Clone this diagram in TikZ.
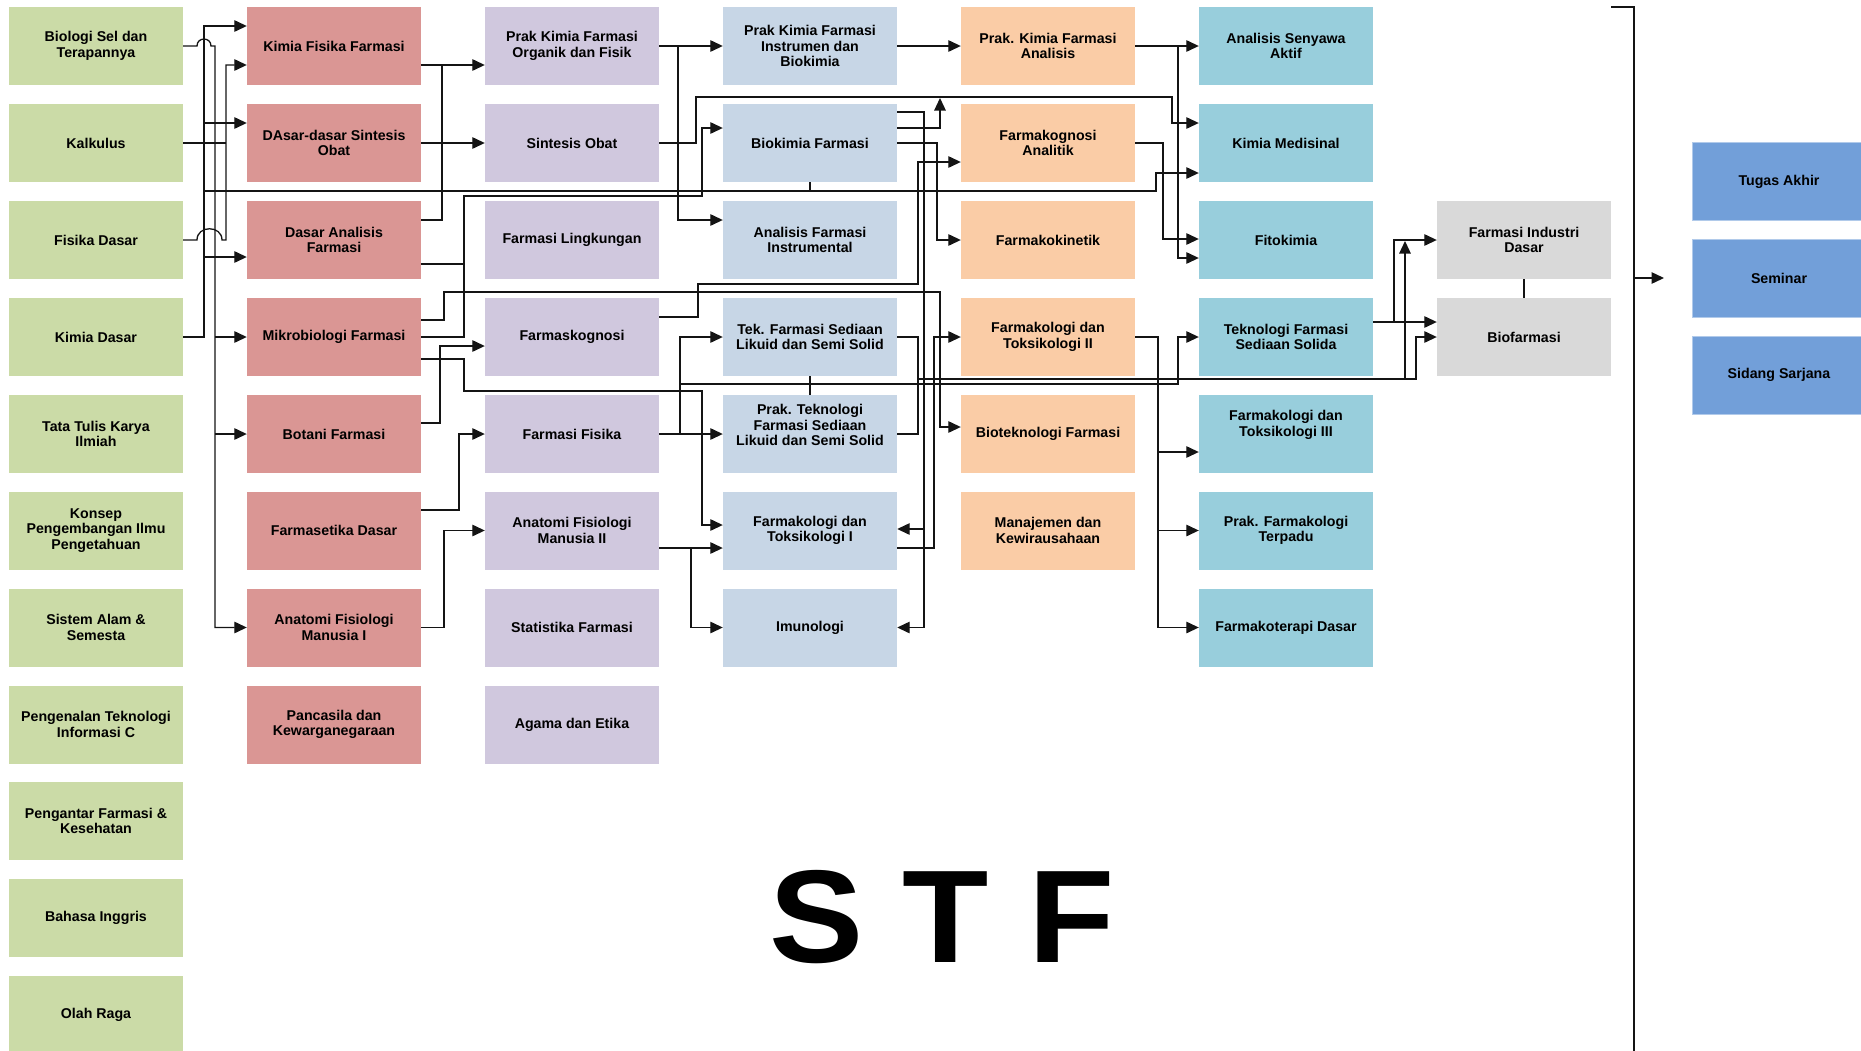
\documentclass[tikz,border=0pt]{standalone}
\usepackage{fontspec}
\setmainfont{Liberation Sans}
\usetikzlibrary{arrows.meta}
\definecolor{cgreen}{HTML}{CBDBA7}
\definecolor{cred}{HTML}{DA9694}
\definecolor{cpurple}{HTML}{D0C8DE}
\definecolor{cbgray}{HTML}{C7D6E6}
\definecolor{corange}{HTML}{FACCA6}
\definecolor{ccyan}{HTML}{98CEDC}
\definecolor{cgray}{HTML}{D9D9D9}
\definecolor{cblue}{HTML}{729FD9}
\definecolor{cline}{HTML}{141414}
\begin{document}
\begin{tikzpicture}[x=1pt,y=-1pt,
  box/.style={rectangle, minimum width=174pt, minimum height=78pt, inner sep=0pt, align=center,
    font=\bfseries\fontsize{14.2}{15.5}\selectfont, text=black},
  gbox/.style={box, fill=cgreen},
  rbox/.style={box, fill=cred},
  pbox/.style={box, fill=cpurple},
  bbox/.style={box, fill=cbgray},
  obox/.style={box, fill=corange},
  cbox/.style={box, fill=ccyan},
  xbox/.style={box, fill=cgray},
  tbox/.style={box, fill=cblue, draw=cblue!55!white, line width=0.8pt},
  conn/.style={draw=cline, line width=1.3pt},
  arr/.style={conn, -{Triangle[length=12.5pt,width=11.5pt]}},
]
\useasboundingbox (0,0) rectangle (1861,1050);
% column 1
\node[gbox] (g0) at (96,46) {Biologi Sel dan\\Terapannya};
\node[gbox] (g1) at (96,143) {Kalkulus};
\node[gbox] (g2) at (96,240) {Fisika Dasar};
\node[gbox] (g3) at (96,337) {Kimia Dasar};
\node[gbox] (g4) at (96,434) {Tata Tulis Karya\\Ilmiah};
\node[gbox] (g5) at (96,530.5) {Konsep\\Pengembangan Ilmu\\Pengetahuan};
\node[gbox] (g6) at (96,627.5) {Sistem Alam \&\\Semesta};
\node[gbox] (g7) at (96,724.5) {Pengenalan Teknologi\\Informasi C};
\node[gbox] (g8) at (96,821) {Pengantar Farmasi \&\\Kesehatan};
\node[gbox] (g9) at (96,918) {Bahasa Inggris};
\node[gbox] (g10) at (96,1015) {Olah Raga};
% column 2
\node[rbox] (r0) at (334,46) {Kimia Fisika Farmasi};
\node[rbox] (r1) at (334,143) {DAsar-dasar Sintesis\\Obat};
\node[rbox] (r2) at (334,240) {Dasar Analisis\\Farmasi};
\node[rbox] (r3) at (334,337) {Mikrobiologi Farmasi};
\node[rbox] (r4) at (334,434) {Botani Farmasi};
\node[rbox] (r5) at (334,530.5) {Farmasetika Dasar};
\node[rbox] (r6) at (334,627.5) {Anatomi Fisiologi\\Manusia I};
\node[rbox] (r7) at (334,724.5) {Pancasila dan\\Kewarganegaraan};
% column 3
\node[pbox] (p0) at (572,46) {Prak Kimia Farmasi\\Organik dan Fisik};
\node[pbox] (p1) at (572,143) {Sintesis Obat};
\node[pbox] (p2) at (572,240) {Farmasi Lingkungan};
\node[pbox] (p3) at (572,337) {Farmaskognosi};
\node[pbox] (p4) at (572,434) {Farmasi Fisika};
\node[pbox] (p5) at (572,530.5) {Anatomi Fisiologi\\Manusia II};
\node[pbox] (p6) at (572,627.5) {Statistika Farmasi};
\node[pbox] (p7) at (572,724.5) {Agama dan Etika};
% column 4
\node[bbox] (b0) at (810,46) {Prak Kimia Farmasi\\Instrumen dan\\Biokimia};
\node[bbox] (b1) at (810,143) {Biokimia Farmasi};
\node[bbox] (b2) at (810,240) {Analisis Farmasi\\Instrumental};
\node[bbox] (b3) at (810,337) {Tek. Farmasi Sediaan\\Likuid dan Semi Solid};
\node[bbox] (b4) at (810,434) {};
\node[font=\bfseries\fontsize{14.2}{15.5}\selectfont, align=center] (b4t) at (810,425) {Prak. Teknologi\\Farmasi Sediaan\\Likuid dan Semi Solid};
\node[bbox] (b5) at (810,530.5) {Farmakologi dan\\Toksikologi I};
\node[bbox] (b6) at (810,627.5) {Imunologi};
% column 5
\node[obox] (o0) at (1048,46) {Prak. Kimia Farmasi\\Analisis};
\node[obox] (o1) at (1048,143) {Farmakognosi\\Analitik};
\node[obox] (o2) at (1048,240) {Farmakokinetik};
\node[obox] (o3) at (1048,337) {Farmakologi dan\\Toksikologi II};
\node[obox] (o4) at (1048,434) {Bioteknologi Farmasi};
\node[obox] (o5) at (1048,530.5) {Manajemen dan\\Kewirausahaan};
% column 6
\node[cbox] (c0) at (1286,46) {Analisis Senyawa\\Aktif};
\node[cbox] (c1) at (1286,143) {Kimia Medisinal};
\node[cbox] (c2) at (1286,240) {Fitokimia};
\node[cbox] (c3) at (1286,337) {Teknologi Farmasi\\Sediaan Solida};
\node[cbox] (c4) at (1286,434) {};
\node[font=\bfseries\fontsize{14.2}{15.5}\selectfont, align=center] (c4t) at (1286,425) {Farmakologi dan\\Toksikologi III};
\node[cbox] (c5) at (1286,530.5) {Prak. Farmakologi\\Terpadu};
\node[cbox] (c6) at (1286,627.5) {Farmakoterapi Dasar};
% column 7
\node[xbox] (x2) at (1524,240) {Farmasi Industri\\Dasar};
\node[xbox] (x3) at (1524,337) {Biofarmasi};
% column 8
\node[tbox] (t1) at (1779,181.5) {Tugas Akhir};
\node[tbox] (t2) at (1779,278) {Seminar};
\node[tbox] (t3) at (1779,375) {Sidang Sarjana};
% big title
\node[font=\bfseries\fontsize{132}{132}\selectfont, anchor=base, xscale=1.07, inner sep=0pt] (stf) at (942,962) {S T F};

% ---- connectors ----
% Biologi Sel
\draw[arr] (g0.east) -- (197,46) .. controls (197,36.7) and (211,36.7) .. (211,46) -- (215,46) |- (r6.west);
\draw[arr] (r3.west -| 215,0) -- (r3.west);
\draw[arr] (r4.west -| 215,0) -- (r4.west);
% Kalkulus and Fisika Dasar
\draw[conn] (g1.east) -- (g1.east -| 226,0);
\draw[arr] (g2.east) -- (197,240) .. controls (197,225) and (222,225) .. (222,240) -- (226,240) |- (r0.west |- 0,65);
% Kimia Dasar
\draw[arr] (g3.east) -- (204,337) |- (r0.west |- 0,26);
\draw[arr] (204,123) -- (r1.west |- 0,123);
\draw[arr] (204,257) -- (r2.west |- 0,257);
\draw[arr] (204,191) -- (1156,191) |- (c1.west |- 0,173);
\draw[conn] (b1.south) -- (b1.south |- 0,191);
% column 2 outputs
\draw[arr] (r0.east |- 0,65) -- (p0.west |- 0,65);
\draw[conn] (r2.east |- 0,220) -- (442,220) -- (442,65);
\draw[arr] (r1.east) -- (p1.west);
\draw[conn] (r2.east |- 0,264) -- (464,264);
\draw[arr] (r3.east) -- (464,337) -- (464,196) -- (702,196) |- (b1.west |- 0,128);
\draw[arr] (r3.east |- 0,320) -- (444,320) -- (444,292) -- (940,292) |- (o4.west |- 0,427);
\draw[arr] (r3.east |- 0,359) -- (464,359) -- (464,391) -- (702,391) |- (b5.west |- 0,525);
\draw[arr] (r4.east |- 0,423) -- (440,423) |- (p3.west |- 0,346);
\draw[arr] (r5.east |- 0,510) -- (459,510) |- (p4.west);
\draw[arr] (r6.east) -- (444,627.5) |- (p5.west);
% column 3 outputs
\draw[arr] (p0.east) -- (b0.west);
\draw[arr] (678,46) |- (b2.west |- 0,220);
\draw[arr] (p1.east) -- (696,143) -- (696,97) -- (1172,97) |- (c1.west |- 0,123);
\draw[arr] (p3.east |- 0,317) -- (698,317) -- (698,284) -- (918,284) |- (o1.west |- 0,162);
\draw[arr] (p4.east) -- (b4.west);
\draw[arr] (680,434) |- (b3.west);
\draw[arr] (680,384) -- (1178,384) |- (c3.west);
\draw[arr] (p5.east |- 0,548) -- (b5.west |- 0,548);
\draw[arr] (691,548) |- (b6.west);
% column 4 outputs
\draw[arr] (b0.east) -- (o0.west);
\draw[arr] (b1.east |- 0,128) -- (940,128) -- (940,98);
\draw[arr] (b1.east) -- (937,143) |- (o2.west);
\draw[arr] (b1.east |- 0,112) -- (924,112) |- (b6.east);
\draw[arr] (924,529) -- (b5.east |- 0,529);
\draw[conn] (b3.south) -- (b4.north);
\draw[conn] (b3.east) -- (918,337) |- (b4.east);
\draw[arr] (918,379) -- (1405,379) -- (1405,241);
\draw[arr] (1405,379) -- (1416,379) |- (x3.west);
\draw[arr] (b5.east |- 0,548) -- (934,548) |- (o3.west);
% column 5 outputs
\draw[arr] (o0.east) -- (c0.west);
\draw[arr] (1178,46) |- (c2.west |- 0,258);
\draw[arr] (o1.east) -- (1163,143) |- (c2.west |- 0,239);
\draw[arr] (o3.east) -- (1158,337) |- (c6.west);
\draw[arr] (1158,452) -- (c4.west |- 0,452);
\draw[arr] (1158,530.5) -- (c5.west);
% column 6 outputs
\draw[arr] (c3.east |- 0,322) -- (x3.west |- 0,322);
\draw[arr] (1394,322) |- (x2.west);
\draw[conn] (x2.south) -- (x3.north);
% bracket to final stage
\coordinate (brtop) at (1611,7);
\coordinate (brmid) at (1634,278);
\coordinate (brend) at (1664,278);
\draw[conn] (brtop) -- (1634,7) -- (1634,1052);
\draw[arr] (brmid) -- (brend);
\end{tikzpicture}
\end{document}
